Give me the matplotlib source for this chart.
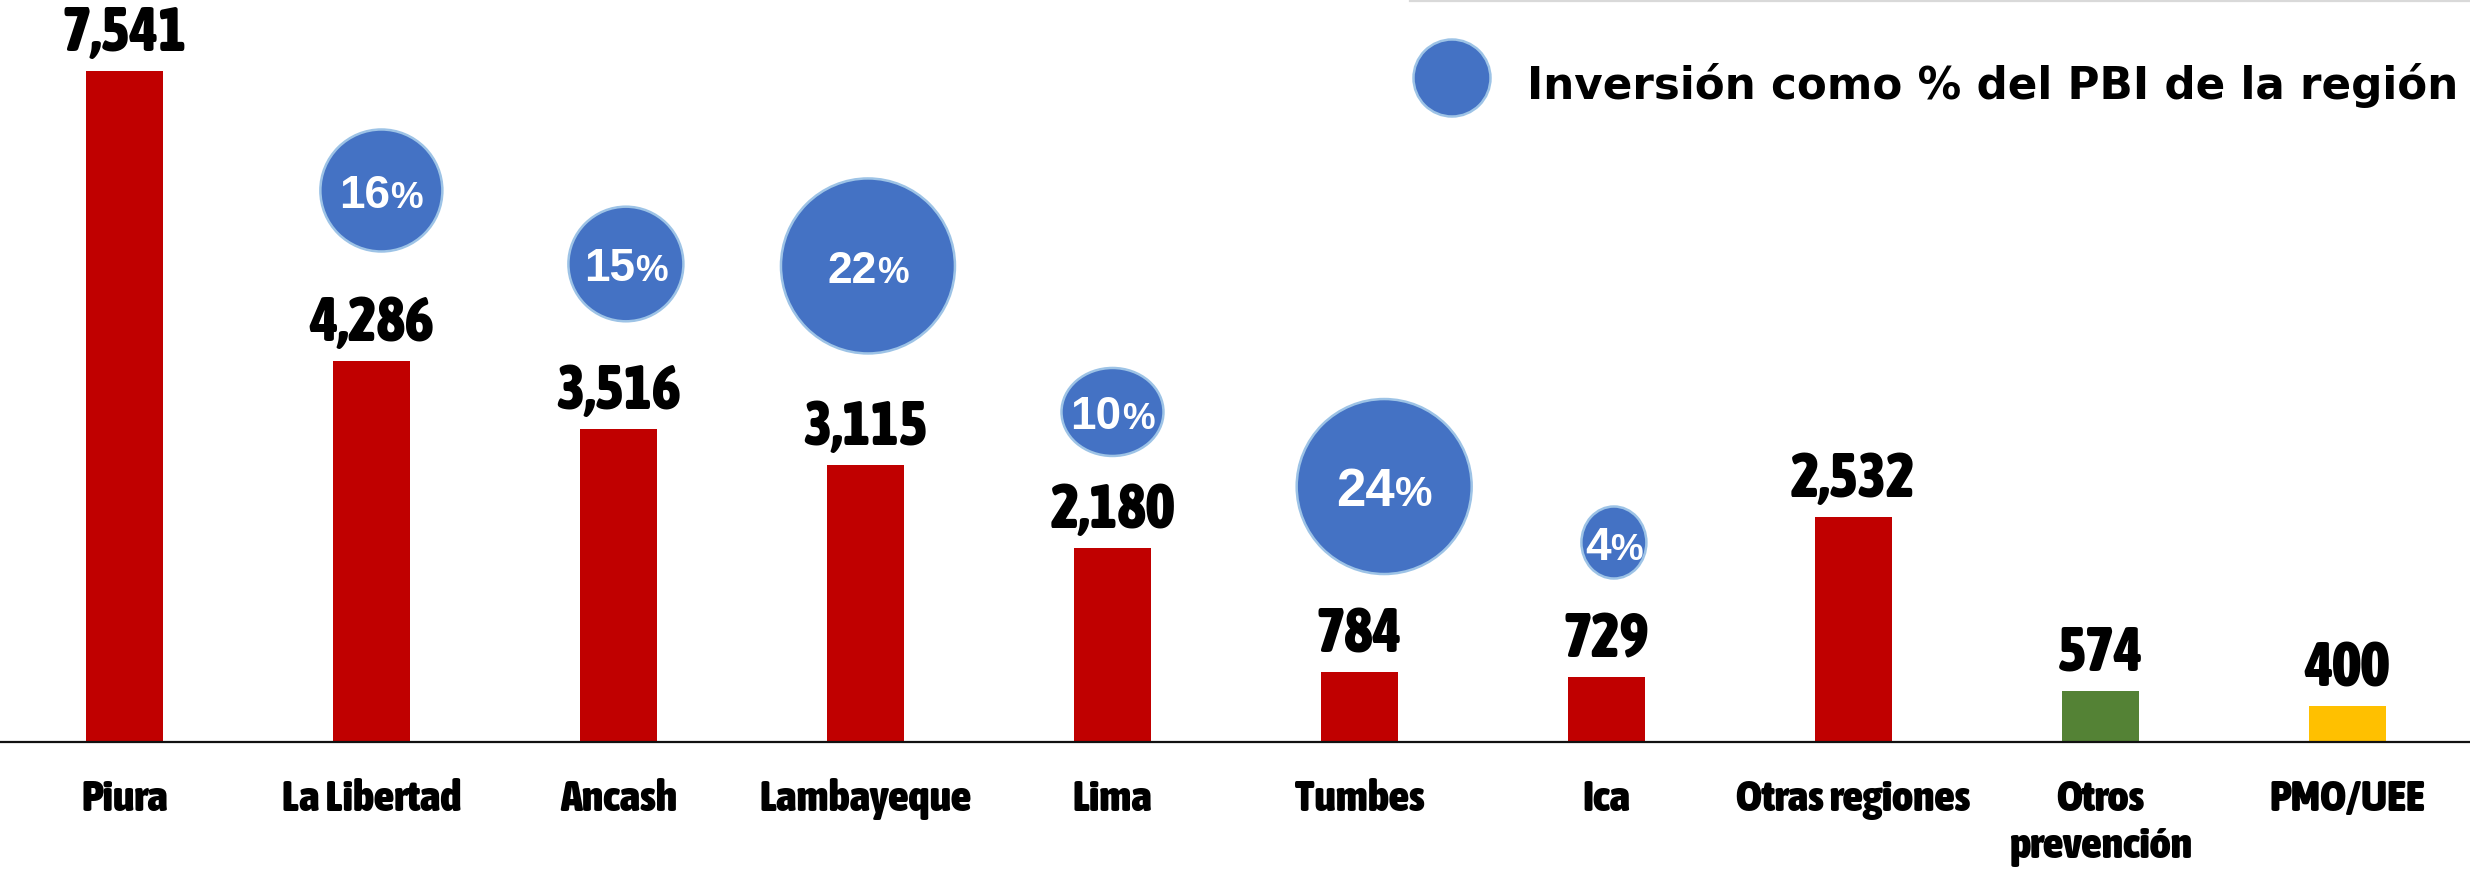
import numpy as np
import matplotlib
matplotlib.use("Agg")
import matplotlib.pyplot as plt
from matplotlib.patches import Ellipse, Circle
from matplotlib.lines import Line2D
from matplotlib.textpath import TextPath
from matplotlib import font_manager as fm

# ---------------- data ----------------
categories = ["Piura", "La Libertad", "Ancash", "Lambayeque", "Lima", "Tumbes",
              "Ica", "Otras regiones", "Otros\nprevención", "PMO/UEE"]
values = [7541, 4286, 3516, 3115, 2180, 784, 729, 2532, 574, 400]
pbi_regions = ["La Libertad", "Ancash", "Lambayeque", "Lima", "Tumbes", "Ica"]
pbi_pct = [16, 15, 22, 10, 24, 4]
legend_label = "Inversión como % del PBI de la región"

# ---------------- style / layout ----------------
bar_colors = ["#C00000"] * 8 + ["#548235", "#FFC000"]
bubble_y = [6198, 5372, 5350, 3709, 2871, 2242]        # bubble centre heights (data units)
bubble_dx = [0.04, 0.03, 0.01, 0.0, 0.10, 0.03]        # horizontal shift from category
bubble_rx = [61, 57.5, 87, 51, 87.5, 32.5]             # radii in pixels
bubble_ry = [61, 57.3, 87.5, 44, 87.5, 36]
bubble_fs = [33, 33, 32, 33, 38, 33]
BUBBLE_FILL = "#4472C4"
BUBBLE_EDGE = "#9DC3E6"
ARIAL = ["Liberation Sans", "DejaVu Sans"]


def _is_bold(f):
    w = f.weight
    if isinstance(w, str):
        return "bold" in w.lower() or w.lower() in ("heavy", "black")
    return w >= 700


def pick_narrow_bold():
    fl = fm.fontManager.ttflist
    for f in fl:
        if f.name == "Liberation Sans Narrow" and _is_bold(f):
            return fm.FontProperties(fname=f.fname)
    for f in fl:
        if ("Condensed" in f.name or "Narrow" in f.name) and _is_bold(f) \
                and "italic" not in f.style.lower() and "Italic" not in f.fname:
            return fm.FontProperties(fname=f.fname)
    for f in fl:
        fn = f.fname
        if ("Condensed" in fn or "Narrow" in fn) and "Bold" in fn and "Oblique" not in fn \
                and "Italic" not in fn:
            return fm.FontProperties(fname=fn)
    return fm.FontProperties(family="Liberation Sans", weight="bold")


NARROW = pick_narrow_bold()
LEGEND_FP = fm.FontProperties(family=["DejaVu Sans"], weight="bold")

W, H = 2470, 879
fig = plt.figure(figsize=(W / 100, H / 100), dpi=100)
renderer = fig.canvas.get_renderer()


def width_size(text, fp, target_w, base=40.0):
    p = fp.copy()
    p.set_size(base)
    t = fig.text(0, 0, text, fontproperties=p)
    w = t.get_window_extent(renderer).width
    t.remove()
    return base * target_w / w


def cap_size(fp, cap_px):
    p = fp.copy()
    p.set_size(100)
    frac = TextPath((0, 0), "H", prop=p).get_extents().height / 100.0
    return cap_px * 72.0 / (100.0 * frac)


def fit(text, fp, target_w, cap_px):
    return float(np.sqrt(width_size(text, fp, target_w) * cap_size(fp, cap_px)))


def sized(fp, size):
    p = fp.copy()
    p.set_size(size)
    return p


base_px = 743
ax = fig.add_axes([0, 1 - base_px / H, 1, base_px / H])
xmin, xmax = -0.504, 9.496
ymax = 8350
ax.set_xlim(xmin, xmax)
ax.set_ylim(0, ymax)
xdpp = (xmax - xmin) / W        # data per pixel in x
ydpp = ymax / base_px           # data per pixel in y

x = np.arange(len(categories))
ax.bar(x, values, width=0.31, color=bar_colors, zorder=2)

val_fp = sized(NARROW, fit("7,541", NARROW, 113, 47))
for xi, v in zip(x, values):
    ax.annotate(f"{v:,}", (xi, v), xytext=(0, 21), textcoords="offset pixels",
                ha="center", va="baseline", fontproperties=val_fp, color="black")

cat_fp = sized(NARROW, fit("La Libertad", NARROW, 178, 31.5))
ax.set_xticks(x)
ax.set_xticklabels(categories, fontproperties=cat_fp, linespacing=1.15)
ax.tick_params(axis="x", length=0, pad=25)
ax.set_yticks([])
for s in ["top", "right", "left"]:
    ax.spines[s].set_visible(False)
ax.spines["bottom"].set_color("#111111")
ax.spines["bottom"].set_linewidth(1.6)

# ---------------- bubbles ----------------
for reg, pct, by, dx, rx, ry, fs in zip(pbi_regions, pbi_pct, bubble_y, bubble_dx,
                                         bubble_rx, bubble_ry, bubble_fs):
    bx = categories.index(reg) + dx
    e = Ellipse((bx, by), 2 * rx * xdpp, 2 * ry * ydpp, facecolor=BUBBLE_FILL,
                edgecolor=BUBBLE_EDGE, linewidth=1.8, zorder=3)
    ax.add_patch(e)
    t1 = ax.text(0, 0, str(pct), fontsize=fs, fontweight="bold", family=ARIAL)
    t2 = ax.text(0, 0, "%", fontsize=fs * 0.8, fontweight="bold", family=ARIAL)
    w1 = t1.get_window_extent(renderer).width
    w2 = t2.get_window_extent(renderer).width
    t1.remove(); t2.remove()
    cap = fs * 100 / 72 * 0.716
    left = -(w1 + w2) / 2
    ax.annotate(str(pct), (bx, by), xytext=(left, -cap / 2), textcoords="offset pixels",
                ha="left", va="baseline", fontsize=fs, fontweight="bold",
                family=ARIAL, color="white", zorder=4)
    ax.annotate("%", (bx, by), xytext=(left + w1, -cap / 2), textcoords="offset pixels",
                ha="left", va="baseline", fontsize=fs * 0.8, fontweight="bold",
                family=ARIAL, color="white", zorder=4)

# ---------------- legend ----------------
fig.add_artist(Line2D([1410 / W, 1.0], [1 - 1.5 / H, 1 - 1.5 / H], transform=fig.transFigure,
                      color="#D9D9D9", linewidth=1.6))
fig.add_artist(Circle((1452 / 100, (H - 79) / 100), 0.385, transform=fig.dpi_scale_trans,
                      facecolor=BUBBLE_FILL, edgecolor=BUBBLE_EDGE, linewidth=1.8))
leg_fs = width_size(legend_label, LEGEND_FP, 930)
fig.text(1527 / W, 1 - 99 / H, legend_label, fontproperties=sized(LEGEND_FP, leg_fs),
         ha="left", va="baseline", color="black")

fig.savefig("out.png", dpi=100, facecolor="white")
